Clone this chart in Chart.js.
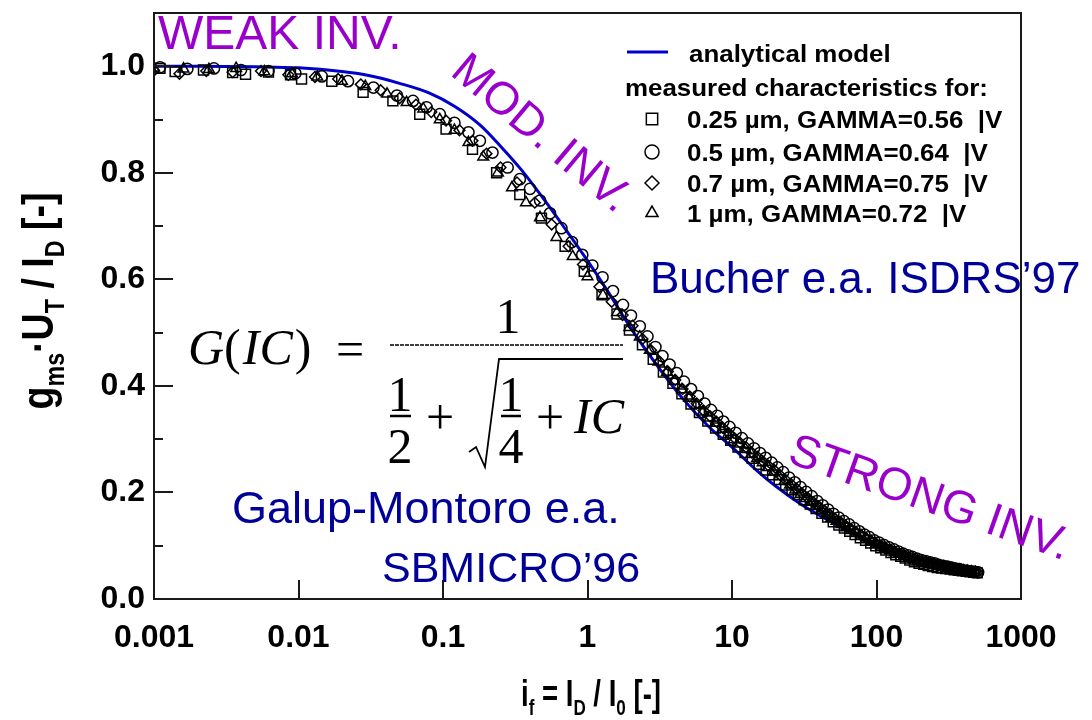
<!DOCTYPE html>
<html><head><meta charset="utf-8">
<script src="https://cdn.jsdelivr.net/npm/chart.js@4.4.1/dist/chart.umd.min.js"></script>
<style>html,body{margin:0;padding:0;background:#fff}canvas{display:block}</style>
</head><body>
<canvas id="c" width="1092" height="720"></canvas>
<script>
// ---------- data ----------
const xTickValues = [0.001, 0.01, 0.1, 1, 10, 100, 1000];
const xTickLabels = ['0.001', '0.01', '0.1', '1', '10', '100', '1000'];
const yTickValues = [0, 0.2, 0.4, 0.6, 0.8, 1.0];
const yTickLabels = ['0.0', '0.2', '0.4', '0.6', '0.8', '1.0'];
const yMinorValues = [0.1, 0.3, 0.5, 0.7, 0.9];

const seriesLabels = ['analytical model', '0.25 \u00b5m, GAMMA=0.56  |V', '0.5 \u00b5m, GAMMA=0.64  |V', '0.7 \u00b5m, GAMMA=0.75  |V', '1 \u00b5m, GAMMA=0.72  |V'];
const legendHeader = 'measured characteristics for:';

// analytical model (blue line)
const modelIf = [0.001, 0.002, 0.005, 0.01, 0.02, 0.03, 0.05, 0.08, 0.12, 0.18, 0.25, 0.35, 0.5, 0.7, 1, 1.4, 2, 3, 4.5, 7, 10, 15, 20, 30, 50, 75, 110, 160, 240, 350, 500];
const modelG  = [1.0, 1.0, 0.999, 0.997, 0.99, 0.983, 0.968, 0.95, 0.925, 0.89, 0.85, 0.805, 0.75, 0.695, 0.635, 0.575, 0.508, 0.44, 0.378, 0.322, 0.285, 0.24, 0.212, 0.178, 0.143, 0.118, 0.097, 0.081, 0.067, 0.056, 0.047];

// 0.25 um (squares)
const sqIf = [0.0011, 0.0014, 0.0022, 0.0035, 0.0043, 0.0062, 0.0088, 0.0105, 0.017, 0.028, 0.045, 0.069, 0.105, 0.16, 0.235, 0.34, 0.48, 0.7, 0.95, 1.26, 1.6, 1.95,
  2.4, 2.85, 3.35, 3.9, 4.5, 5.2, 5.95, 6.8, 7.7, 8.7, 9.8, 11, 12.3, 13.8, 15.4, 17.2, 19.1, 21.2, 23.5, 26, 28.7, 31.6, 34.8, 38.2, 41.9,
  45.9, 50.2, 54.9, 59.9, 65.3, 71.1, 77.3, 84, 91.2, 98.9, 107, 116, 126, 136, 147, 158, 170, 183, 197, 212, 228, 245, 263, 282, 302, 323, 345, 368, 392, 417, 443, 470, 498];
const sqG  = [0.996, 0.99, 0.993, 0.988, 0.985, 0.989, 0.984, 0.976, 0.972, 0.951, 0.935, 0.91, 0.882, 0.844, 0.8, 0.759, 0.715, 0.662, 0.615, 0.571, 0.535, 0.505,
  0.477, 0.45, 0.426, 0.405, 0.385, 0.366, 0.35, 0.334, 0.321, 0.309, 0.298, 0.285, 0.275, 0.264, 0.253, 0.242, 0.233, 0.224, 0.214, 0.205, 0.196, 0.186, 0.178, 0.17, 0.161,
  0.154, 0.145, 0.139, 0.133, 0.127, 0.121, 0.115, 0.11, 0.105, 0.1, 0.096, 0.092, 0.087, 0.083, 0.08, 0.077, 0.073, 0.07, 0.067, 0.065, 0.063, 0.061, 0.059, 0.058, 0.057, 0.056, 0.055, 0.054, 0.053, 0.052, 0.051, 0.05, 0.049];

// 0.5 um (circles)
const ciIf = [0.0011, 0.0017, 0.0026, 0.004, 0.0062, 0.0095, 0.0145, 0.022, 0.033,
  0.048, 0.062, 0.077, 0.095, 0.12, 0.15, 0.18, 0.22, 0.28, 0.34, 0.4, 0.47, 0.55, 0.66, 0.78, 0.92, 1.08, 1.27, 1.5, 1.76, 2.0,
  2.3, 2.6, 2.95, 3.3, 3.7, 4.15, 4.65, 5.2, 5.8, 6.45, 7.15, 7.9, 8.7, 9.6, 10.6, 11.7, 12.9, 14.2, 15.6, 17.1, 18.8, 20.6, 22.6, 24.8, 27.2,
  29.8, 32.6, 35.6, 38.9, 42.4, 46.2, 50.3, 54.7, 59.5, 64.6, 70.1, 76, 82.4, 89.2, 96.5, 104, 113, 122, 132, 142, 153, 165, 177, 190, 204,
  219, 235, 252, 270, 289, 309, 330, 352, 375, 399, 424, 450, 478, 505];
const ciG  = [0.998, 0.995, 0.996, 0.993, 0.991, 0.987, 0.981, 0.972, 0.96,
  0.945, 0.935, 0.923, 0.91, 0.894, 0.876, 0.86, 0.838, 0.81, 0.788, 0.77, 0.748, 0.724, 0.696, 0.67, 0.646, 0.626, 0.604, 0.578, 0.552, 0.532,
  0.512, 0.493, 0.473, 0.456, 0.44, 0.424, 0.408, 0.394, 0.381, 0.367, 0.355, 0.344, 0.333, 0.323, 0.312, 0.302, 0.292, 0.283, 0.274, 0.265, 0.256, 0.247, 0.238, 0.228, 0.219,
  0.21, 0.201, 0.193, 0.184, 0.176, 0.168, 0.16, 0.153, 0.146, 0.14, 0.133, 0.127, 0.121, 0.116, 0.11, 0.106, 0.101, 0.097, 0.093, 0.089, 0.085, 0.082, 0.079, 0.076, 0.073,
  0.071, 0.069, 0.067, 0.064, 0.062, 0.061, 0.059, 0.057, 0.056, 0.054, 0.053, 0.052, 0.051, 0.05];

// 0.7 um (diamonds)
const diIf = [0.001, 0.0015, 0.0023, 0.0035, 0.0055, 0.0085, 0.013, 0.0188, 0.027, 0.037,
  0.05, 0.065, 0.083, 0.105, 0.13, 0.16, 0.2, 0.25, 0.325, 0.432, 0.565, 0.74, 0.93, 1.21, 1.47, 1.75,
  2.05, 2.4, 2.75, 3.15, 3.6, 4.05, 4.55, 5.1, 5.7, 6.35, 7.05, 7.8, 8.6, 9.5, 10.4, 11.4, 12.5, 13.7, 15, 16.4, 17.9, 19.6, 21.4, 23.4, 25.6,
  28, 30.6, 33.4, 36.5, 39.8, 43.4, 47.3, 51.5, 56, 61, 66.3, 72, 78.2, 84.9, 92, 99.7, 108, 117, 127, 137, 148, 160, 172, 185, 199,
  214, 230, 247, 265, 284, 304, 325, 347, 370, 394, 419, 445, 472, 500];
const diG  = [0.992, 0.986, 0.991, 0.989, 0.991, 0.984, 0.98, 0.976, 0.966, 0.955,
  0.94, 0.928, 0.914, 0.898, 0.88, 0.86, 0.836, 0.81, 0.782, 0.744, 0.703, 0.662, 0.628, 0.586, 0.558, 0.533,
  0.513, 0.488, 0.467, 0.446, 0.427, 0.411, 0.394, 0.38, 0.367, 0.354, 0.343, 0.333, 0.322, 0.311, 0.302, 0.293, 0.285, 0.275, 0.267, 0.258, 0.25, 0.242, 0.233, 0.224, 0.216,
  0.207, 0.198, 0.19, 0.182, 0.174, 0.166, 0.159, 0.151, 0.145, 0.138, 0.132, 0.126, 0.12, 0.114, 0.109, 0.104, 0.1, 0.095, 0.091, 0.087, 0.084, 0.08, 0.077, 0.074, 0.071,
  0.069, 0.067, 0.065, 0.063, 0.061, 0.06, 0.058, 0.057, 0.055, 0.054, 0.053, 0.052, 0.051, 0.05];

// 1 um (triangles)
const trIf = [0.001, 0.0016, 0.0024, 0.0037, 0.0058, 0.009, 0.0135, 0.02, 0.029, 0.041,
  0.056, 0.073, 0.095, 0.12, 0.15, 0.19, 0.24, 0.3, 0.375, 0.469, 0.61, 0.79, 1.0, 1.28, 1.6, 1.95,
  2.3, 2.7, 3.1, 3.55, 4, 4.5, 5.05, 5.65, 6.3, 7, 7.75, 8.55, 9.4, 10.3, 11.3, 12.4, 13.6, 14.9, 16.3, 17.8, 19.4, 21.2, 23.1, 25.2, 27.4,
  29.8, 32.4, 35.2, 38.2, 41.5, 45, 48.8, 52.9, 57.3, 62, 67.1, 72.6, 78.5, 84.8, 91.6, 98.9, 107, 115, 124, 134, 144, 155, 167, 180, 193,
  207, 222, 238, 255, 273, 292, 312, 333, 355, 378, 402, 428, 455, 483];
const trG  = [0.997, 0.995, 0.994, 0.996, 0.99, 0.986, 0.98, 0.972, 0.962, 0.948,
  0.932, 0.92, 0.9, 0.88, 0.857, 0.83, 0.8, 0.772, 0.744, 0.716, 0.679, 0.643, 0.605, 0.57, 0.538, 0.51,
  0.492, 0.467, 0.445, 0.426, 0.409, 0.393, 0.377, 0.364, 0.351, 0.34, 0.33, 0.319, 0.309, 0.299, 0.291, 0.281, 0.272, 0.264, 0.256, 0.247, 0.238, 0.23, 0.221, 0.214, 0.205,
  0.197, 0.189, 0.182, 0.174, 0.167, 0.16, 0.152, 0.146, 0.14, 0.134, 0.129, 0.123, 0.118, 0.113, 0.108, 0.103, 0.098, 0.095, 0.091, 0.087, 0.084, 0.081, 0.077, 0.074, 0.071,
  0.069, 0.067, 0.065, 0.063, 0.061, 0.06, 0.058, 0.057, 0.055, 0.054, 0.053, 0.052, 0.051, 0.05];

// ---------- helpers ----------
const pts = (xs, ys) => xs.map((v, i) => ({x: v, y: ys[i]}));
const SANS = "'Liberation Sans', Arial, sans-serif";
const SERIF = "'Liberation Serif', 'Times New Roman', serif";
const PURPLE = '#9a00cc';
const NAVY = '#000099';

function rich(ctx, segs, o) {
  ctx.save();
  const subSize = o.size * 0.62;
  const f = s => `${o.weight || 'bold'} ${s.sub ? subSize : o.size}px ${o.family || SANS}`;
  let total = 0;
  const ws = segs.map(s => { ctx.font = f(s); const w = ctx.measureText(s.t).width; total += w; return w; });
  const sx = o.width ? o.width / total : 1;
  ctx.translate(o.x, o.y);
  ctx.rotate(o.angle || 0);
  ctx.scale(sx, 1);
  ctx.fillStyle = o.color || '#000';
  ctx.textBaseline = 'alphabetic';
  ctx.textAlign = 'left';
  let cx = -total / 2;
  segs.forEach((s, i) => { ctx.font = f(s); ctx.fillText(s.t, cx, s.sub ? o.size * 0.24 : 0); cx += ws[i]; });
  ctx.restore();
}

function txt(ctx, t, x, y, font, color, angle, align) {
  ctx.save();
  ctx.translate(x, y);
  ctx.rotate(angle || 0);
  ctx.font = font; ctx.fillStyle = color || '#000';
  ctx.textAlign = align || 'left'; ctx.textBaseline = 'alphabetic';
  ctx.fillText(t, 0, 0);
  ctx.restore();
}

const decor = {
  id: 'decor',
  afterDatasetsDraw(chart) {
    const {ctx, chartArea: a, scales: {x, y}} = chart;
    ctx.save();
    ctx.strokeStyle = '#1a1a1a';
    ctx.lineWidth = 2;
    ctx.strokeRect(a.left, a.top, a.right - a.left, a.bottom - a.top);
    yTickValues.forEach(v => {
      const py = Math.round(y.getPixelForValue(v));
      ctx.beginPath(); ctx.moveTo(a.left, py); ctx.lineTo(a.left + 19, py); ctx.stroke();
    });
    yMinorValues.forEach(v => {
      const py = Math.round(y.getPixelForValue(v));
      ctx.beginPath(); ctx.moveTo(a.left, py); ctx.lineTo(a.left + 9, py); ctx.stroke();
    });
    xTickValues.forEach(v => {
      const px = Math.round(x.getPixelForValue(v));
      ctx.beginPath(); ctx.moveTo(px, a.bottom); ctx.lineTo(px, a.bottom - 19); ctx.stroke();
    });
    ctx.restore();
  },
  afterDraw(chart) {
    const ctx = chart.ctx;
    const ds = chart.data.datasets;
    // ----- legend -----
    ctx.save();
    ctx.font = `bold 24px ${SANS}`;
    const lsx = 363 / ctx.measureText(legendHeader).width;
    const ltxt = (t, x, yb) => { ctx.save(); ctx.translate(x, yb); ctx.scale(lsx, 1); ctx.fillStyle = '#000'; ctx.font = `bold 24px ${SANS}`; ctx.fillText(t, 0, 0); ctx.restore(); };
    ctx.strokeStyle = ds[0].borderColor; ctx.lineWidth = 3;
    ctx.beginPath(); ctx.moveTo(627, 52); ctx.lineTo(668, 52); ctx.stroke();
    ltxt(ds[0].label, 689, 62);
    ltxt(legendHeader, 625, 96);
    const rows = [119, 152, 183, 213];
    for (let i = 1; i <= 4; i++) {
      const d = ds[i];
      ctx.strokeStyle = '#000'; ctx.fillStyle = 'rgba(0,0,0,0)'; ctx.lineWidth = 1.5;
      Chart.helpers.drawPoint(ctx, {pointStyle: d.pointStyle, radius: d.pointStyle === 'rect' ? 8 : 7, borderWidth: 1.5, rotation: 0}, 652, rows[i - 1]);
      ltxt(d.label, 687, rows[i - 1] + 9);
    }
    ctx.restore();

    // ----- axis titles -----
    rich(ctx, [{t: 'i'}, {t: 'f', sub: 1}, {t: ' = I'}, {t: 'D', sub: 1}, {t: ' / I'}, {t: '0', sub: 1}, {t: ' [-]'}],
      {x: 591, y: 706, size: 36, width: 140});
    rich(ctx, [{t: 'g'}, {t: 'ms', sub: 1}, {t: '\u00b7U'}, {t: 'T', sub: 1}, {t: ' / I'}, {t: 'D', sub: 1}, {t: ' [-]'}],
      {x: 53, y: 301, size: 44, width: 217, angle: -Math.PI / 2});

    // ----- annotations -----
    txt(ctx, 'WEAK INV.', 158, 49, `48px ${SANS}`, PURPLE);
    txt(ctx, 'MOD. INV.', 449, 74, `46px ${SANS}`, PURPLE, 40 * Math.PI / 180);
    txt(ctx, 'STRONG INV.', 786, 462, `46px ${SANS}`, PURPLE, 19.5 * Math.PI / 180);
    txt(ctx, 'Bucher e.a. ISDRS\u201997', 650, 293, `44px ${SANS}`, NAVY);
    txt(ctx, 'Galup-Montoro e.a.', 232, 523, `45px ${SANS}`, NAVY);
    txt(ctx, 'SBMICRO\u201996', 382, 582, `43px ${SANS}`, NAVY);

    // ----- formula -----
    const fR = `50px ${SERIF}`, fI = `italic 50px ${SERIF}`;
    ctx.save();
    ctx.fillStyle = '#000';
    txt(ctx, 'G', 188, 364, fI);
    ctx.font = fI; let gx = 188 + ctx.measureText('G').width;
    txt(ctx, '(', gx, 364, fR); ctx.font = fR; gx += ctx.measureText('(').width;
    txt(ctx, 'IC', gx + 2, 364, fI); ctx.font = fI; gx += ctx.measureText('IC').width + 4;
    txt(ctx, ')', gx, 364, fR);
    txt(ctx, '=', 350, 366, fR, '#000', 0, 'center');
    txt(ctx, '1', 508, 333, fR, '#000', 0, 'center');
    ctx.strokeStyle = '#000';
    ctx.lineWidth = 1.5;
    ctx.setLineDash([4, 1]);
    ctx.beginPath(); ctx.moveTo(390, 345); ctx.lineTo(623, 345); ctx.stroke();
    ctx.setLineDash([]);
    ctx.lineWidth = 2.5;
    txt(ctx, '1', 400, 411, fR, '#000', 0, 'center');
    ctx.beginPath(); ctx.moveTo(390, 416); ctx.lineTo(411, 416); ctx.stroke();
    txt(ctx, '2', 400, 463, fR, '#000', 0, 'center');
    txt(ctx, '+', 440, 434, fR, '#000', 0, 'center');
    ctx.lineWidth = 1.8;
    ctx.beginPath(); ctx.moveTo(469, 452); ctx.lineTo(476, 447); ctx.lineTo(485, 467); ctx.lineTo(499, 359); ctx.lineTo(623, 359); ctx.stroke();
    ctx.lineWidth = 2.5;
    txt(ctx, '1', 511, 411, fR, '#000', 0, 'center');
    ctx.beginPath(); ctx.moveTo(501, 416); ctx.lineTo(521, 416); ctx.stroke();
    txt(ctx, '4', 511, 463, fR, '#000', 0, 'center');
    txt(ctx, '+', 550, 434, fR, '#000', 0, 'center');
    txt(ctx, 'IC', 574, 433, fI);
    ctx.restore();
  }
};

const mk = (label, xs, ys, style, r) => ({
  label, data: pts(xs, ys), pointStyle: style, pointRadius: r, pointHoverRadius: r,
  borderColor: '#000', backgroundColor: 'rgba(0,0,0,0)', pointBorderWidth: 1.5, showLine: false, order: 1
});

new Chart(document.getElementById('c'), {
  type: 'scatter',
  data: {
    datasets: [
      {label: seriesLabels[0], data: pts(modelIf, modelG), showLine: true, borderColor: '#0000cc', borderWidth: 3, pointRadius: 0, cubicInterpolationMode: 'monotone', order: 5, fill: false},
      mk(seriesLabels[1], sqIf, sqG, 'rect', 7),
      mk(seriesLabels[2], ciIf, ciG, 'circle', 5.6),
      mk(seriesLabels[3], diIf, diG, 'rectRot', 5.4),
      mk(seriesLabels[4], trIf, trG, 'triangle', 6.2)
    ]
  },
  options: {
    responsive: false,
    animation: false,
    layout: {padding: {top: 13, right: 71, left: 0, bottom: 0}},
    plugins: {legend: {display: false}, tooltip: {enabled: false}},
    scales: {
      x: {
        type: 'logarithmic', min: 0.001, max: 1000,
        afterBuildTicks: s => { s.ticks = xTickValues.map(v => ({value: v})); },
        ticks: {callback: (v, i) => xTickLabels[i], autoSkip: false, maxRotation: 0, padding: 20, color: '#000',
                font: {family: SANS, size: 32, weight: 'bold'}},
        grid: {display: false, drawTicks: false}, border: {display: false},
        afterFit: s => { s.height = 121; s.paddingLeft = 0; s.paddingRight = 0; }
      },
      y: {
        min: 0, max: 1.1,
        afterBuildTicks: s => { s.ticks = yTickValues.map(v => ({value: v})); },
        ticks: {callback: (v, i) => yTickLabels[i], padding: 9, color: '#000',
                font: {family: SANS, size: 32, weight: 'bold'}},
        grid: {display: false, drawTicks: false}, border: {display: false},
        afterFit: s => { s.width = 154; s.paddingTop = 0; s.paddingBottom = 0; }
      }
    }
  },
  plugins: [decor]
});
</script>
</body></html>
